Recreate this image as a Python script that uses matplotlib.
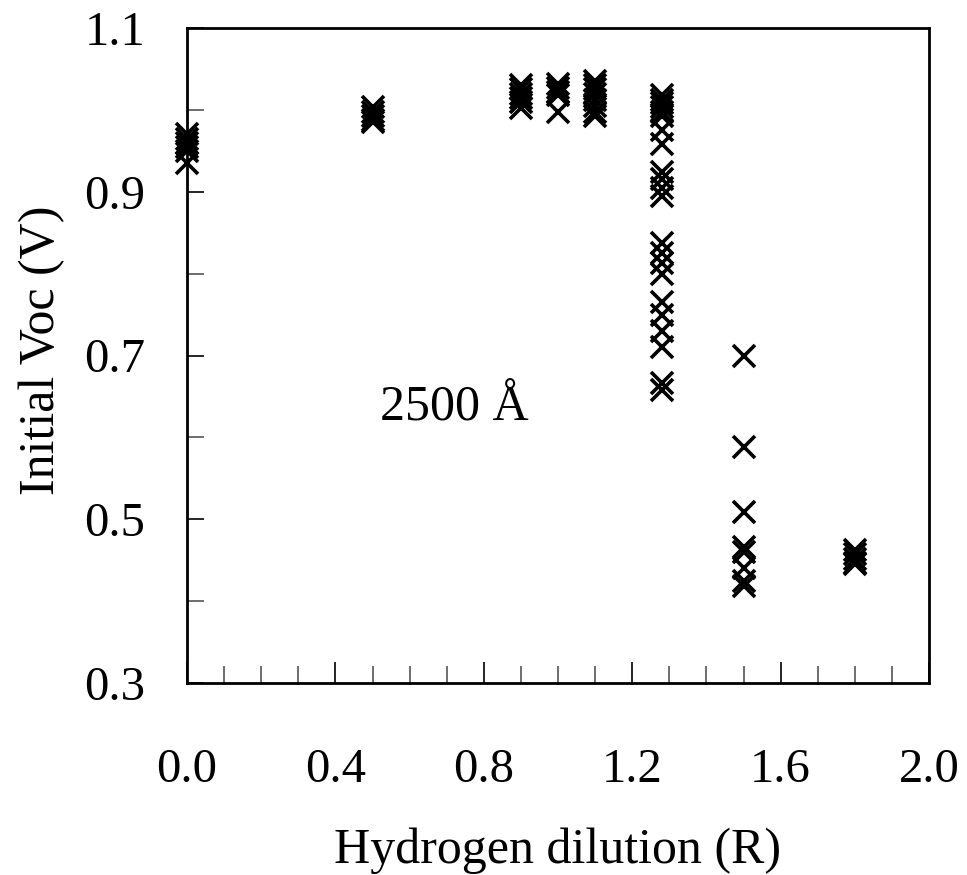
import numpy as np
import matplotlib
matplotlib.use('Agg')
import matplotlib.pyplot as plt
from matplotlib.ticker import MultipleLocator, FixedLocator

plt.rcParams['font.family'] = ['Liberation Serif', 'DejaVu Serif']

# hydrogen dilution R and measured Voc for each group of cells
r_values = [0.0, 0.5, 0.9, 1.0, 1.1, 1.28, 1.5, 1.8]
voc = [
    [0.970, 0.965, 0.960, 0.955, 0.950, 0.935],
    [1.003, 0.998, 0.993, 0.988, 0.985],
    [1.030, 1.025, 1.020, 1.015, 1.010, 1.002],
    [1.032, 1.027, 1.022, 1.018, 0.998],
    [1.035, 1.030, 1.025, 1.020, 1.012, 1.005, 0.998, 0.992],
    [1.018, 1.012, 1.008, 1.003, 0.998, 0.993, 0.975, 0.958,
     0.924, 0.915, 0.905, 0.895, 0.837, 0.825, 0.813, 0.800,
     0.765, 0.750, 0.730, 0.710, 0.666, 0.658],
    [0.700, 0.588, 0.509, 0.466, 0.460, 0.440, 0.424, 0.418],
    [0.463, 0.458, 0.452, 0.447, 0.445],
]
y_major = [0.3, 0.5, 0.7, 0.9, 1.1]
y_minor = [0.4, 0.6, 0.8, 1.0]

fig = plt.figure(figsize=(9.67, 8.75), dpi=100)
ax = fig.add_axes([187 / 967, 1 - 683 / 875, (929 - 187) / 967, (683 - 28) / 875])

for r, v in zip(r_values, voc):
    ax.plot([r] * len(v), v, linestyle='none', marker='x', color='black',
            markersize=16, markeredgewidth=2.6, clip_on=False)

ax.set_xlim(0, 2.0)
ax.set_ylim(0.3, 1.1)

ax.xaxis.set_major_locator(MultipleLocator(0.4))
ax.xaxis.set_minor_locator(MultipleLocator(0.1))
ax.yaxis.set_major_locator(FixedLocator(y_major))
ax.yaxis.set_minor_locator(FixedLocator(y_minor))
ax.xaxis.set_major_formatter(plt.FormatStrFormatter('%.1f'))
ax.yaxis.set_major_formatter(plt.FormatStrFormatter('%.1f'))

ax.tick_params(axis='both', which='both', direction='in', top=False, right=False,
               labelsize=35, width=1.2)
ax.tick_params(axis='x', which='major', length=15, pad=47)
ax.tick_params(axis='x', which='minor', length=12, color='#555555')
ax.tick_params(axis='y', which='major', length=12, pad=30)
ax.tick_params(axis='y', which='minor', length=12, color='#555555')

for s in ax.spines.values():
    s.set_linewidth(2)

ax.set_xlabel('Hydrogen dilution (R)', fontsize=36, labelpad=25)
# y label placed directly so it sits where the reference has it
fig.text(42 / 967, 1 - 350 / 875, 'Initial Voc (V)', fontsize=36,
         rotation=90, ha='center', va='center')

ax.text(0.52, 0.636, '2500 Å', fontsize=36, va='center', ha='left')

fig.savefig('out.png', dpi=100)
